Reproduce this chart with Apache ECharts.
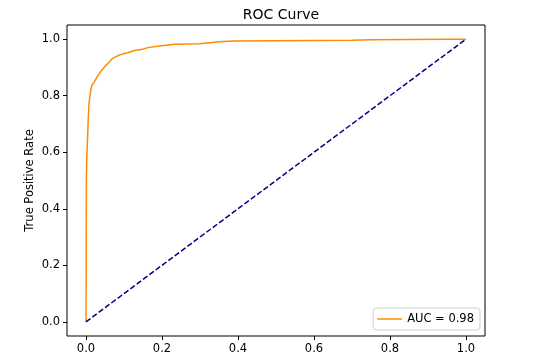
<!DOCTYPE html>
<html><head><meta charset="utf-8">
<script src="https://cdn.jsdelivr.net/npm/echarts@6/dist/echarts.min.js"></script>
<style>html,body{margin:0;padding:0;background:#fff}#c{width:539px;height:359px}</style>
</head><body><div id="c"></div>
<script>
const fpr = [0, 0.0005, 0.001, 0.002, 0.004, 0.006, 0.008, 0.012, 0.015, 0.022, 0.030, 0.040, 0.053, 0.062, 0.070, 0.075, 0.085, 0.097, 0.110, 0.127, 0.149, 0.163, 0.193, 0.233, 0.299, 0.352, 0.387, 0.50, 0.60, 0.70, 0.75, 0.85, 0.95, 1.0];
const tpr = [0, 0.18, 0.50, 0.58, 0.643, 0.72, 0.773, 0.815, 0.835, 0.849, 0.868, 0.888, 0.908, 0.920, 0.932, 0.936, 0.942, 0.948, 0.952, 0.960, 0.964, 0.970, 0.976, 0.982, 0.984, 0.991, 0.993, 0.994, 0.995, 0.996, 0.998, 0.999, 1.0, 1.0];
const diagX = [0, 1];
const diagY = [0, 1];
const tickValues = [0, 0.2, 0.4, 0.6, 0.8, 1.0];
const aucLabel = 'AUC = 0.98';

const font = 'DejaVu Sans';
const chart = echarts.init(document.getElementById('c'));
const axisCommon = {
  type: 'value', min: -0.05, max: 1.05,
  axisLine: {show: false, onZero: false},
  splitLine: {show: false},
  axisTick: {show: true, inside: false, length: 4, lineStyle: {color: '#000'}, customValues: tickValues},
  axisLabel: {color: '#000', fontFamily: font, fontSize: 11.5, customValues: tickValues, formatter: v => v.toFixed(1)}
};
chart.setOption({
  animation: false,
  title: {text: 'ROC Curve', left: 276, top: 3, textAlign: 'center',
    textStyle: {fontFamily: font, fontSize: 14, fontWeight: 'normal', color: '#000'}},
  grid: {left: 67, right: 54, top: 25, bottom: 23, show: true, borderColor: '#000', borderWidth: 1, containLabel: false},
  xAxis: Object.assign({}, axisCommon, {axisLabel: Object.assign({}, axisCommon.axisLabel, {margin: 7})}),
  yAxis: Object.assign({}, axisCommon, {
    name: 'True Positive Rate', nameLocation: 'middle', nameGap: 31, nameRotate: 90, nameMoveOverlap: false,
    nameTextStyle: {fontFamily: font, fontSize: 11.5, color: '#000'},
    axisLabel: Object.assign({}, axisCommon.axisLabel, {margin: 7})
  }),
  legend: {
    data: [{name: aucLabel, icon: 'rect'}], right: 59, bottom: 29, orient: 'vertical',
    itemWidth: 25, itemHeight: 1.5, itemGap: 5,
    padding: [5, 6, 5, 4], borderColor: '#d0d0d0', borderWidth: 1, borderRadius: 3,
    backgroundColor: '#fff',
    textStyle: {fontFamily: font, fontSize: 11.5, color: '#000'}
  },
  series: [
    {name: aucLabel, type: 'line', data: fpr.map((x, i) => [x, tpr[i]]), symbol: 'none',
      lineStyle: {color: '#ff8c00', width: 1.5}, itemStyle: {color: '#ff8c00'}},
    {name: 'diag', type: 'line', data: diagX.map((x, i) => [x, diagY[i]]), symbol: 'none',
      lineStyle: {color: '#000080', width: 1.5, type: [5.5, 2.4]}, itemStyle: {color: '#000080'}}
  ]
});
</script></body></html>
